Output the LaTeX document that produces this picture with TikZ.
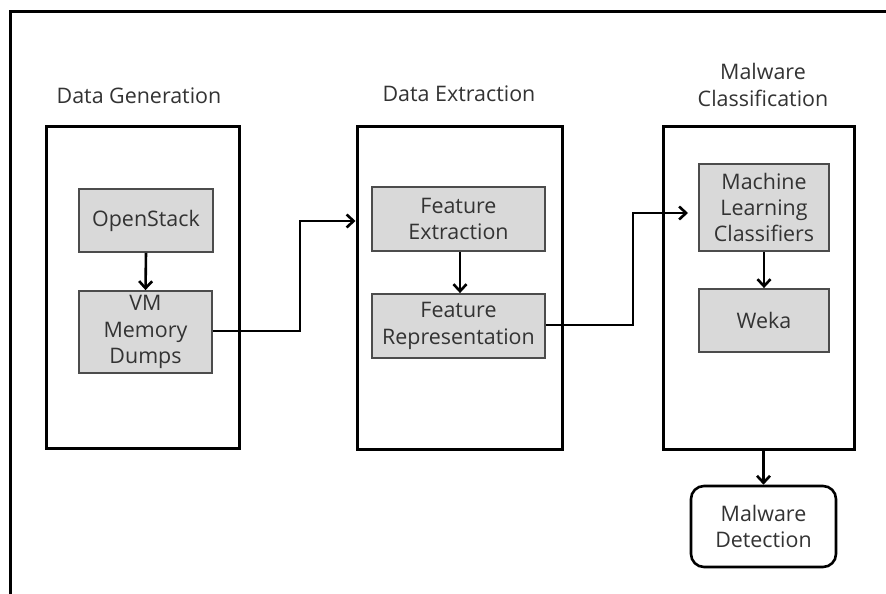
\documentclass[tikz,border=0pt]{standalone}
\usepackage{fontspec}
\setmainfont{Open Sans}
\usetikzlibrary{arrows.meta}
\definecolor{inkgray}{HTML}{333333}
\definecolor{cellfill}{HTML}{D9D9D9}
\begin{document}
\begin{tikzpicture}[x=1bp,y=-1bp,
  stage/.style={draw=black, line width=3bp, fill=none, inner sep=0pt},
  cell/.style={draw=black!70, line width=1.8bp, fill=cellfill, text=inkgray,
    font=\fontsize{21.5}{26.5}\selectfont, align=center, inner sep=0pt},
  result/.style={draw=black, line width=2.6bp, rounded corners=13bp, fill=white,
    text=inkgray, font=\fontsize{21.5}{27}\selectfont, align=center, inner sep=0pt},
  heading/.style={text=inkgray, font=\fontsize{21.5}{28}\selectfont, align=center},
  flow/.style={draw=black, line width=2.6bp,
    -{Straight Barb[length=7bp,width=13bp,line width=2.6bp]}},
  link/.style={draw=black, line width=2.6bp}]
\useasboundingbox (0,0) rectangle (886,594);
\fill[white] (0,0) rectangle (886,594);
% page frame (top and left edges)
\draw[line width=3bp] (10,594) -- (10,12) -- (886,12);

% stages
\node[stage, minimum width=192bp, minimum height=321bp] (gen) at (143,287.5) {};
\node[stage, minimum width=205bp, minimum height=322bp] (ext) at (459.5,288) {};
\node[stage, minimum width=191bp, minimum height=322bp] (cls) at (758.5,288) {};

% stage headings
\node[heading] (hgen) at (139,96) {Data Generation};
\node[heading] (hext) at (459,94) {Data Extraction};
\node[heading] (hcls) at (763,85) {Malware\\Classification};

% steps inside the stages
\node[cell, minimum width=134bp, minimum height=63bp] (os) at (146,220.5) {OpenStack};
\node[cell, minimum width=133bp, minimum height=82bp] (vm) at (145.5,332) {VM\\Memory\\Dumps};
\node[cell, minimum width=173bp, minimum height=64bp] (fe) at (458.5,219) {Feature\\Extraction};
\node[cell, minimum width=173bp, minimum height=64bp] (fr) at (458.5,326) {Feature\\Representation};
\node[cell, minimum width=130bp, minimum height=87bp] (ml) at (764,207.5) {Machine\\Learning\\Classifiers};
\node[cell, minimum width=130bp, minimum height=63bp] (wk) at (764,320.5) {Weka};

% final result
\node[result, minimum width=145bp, minimum height=81bp] (det) at (763.5,526.5) {Malware\\Detection};

% arrows within stages
\draw[flow] (os.south) -- (vm.north);
\draw[flow] (fe.south -| 460,0) -- (fr.north -| 460,0);
\draw[flow] (ml.south) -- (wk.north);
\draw[flow] (cls.south -| det.north) -- (det.north);

% arrows between stages
\coordinate (mlin) at (688,213);
\draw[flow] (vm.east |- 0,331) -- (300,331) -- (300,221) -- (ext.west |- 0,221);
\draw[flow] (fr.east |- 0,325) -- (633,325) -- (633,213) -- (mlin);
\end{tikzpicture}
\end{document}
